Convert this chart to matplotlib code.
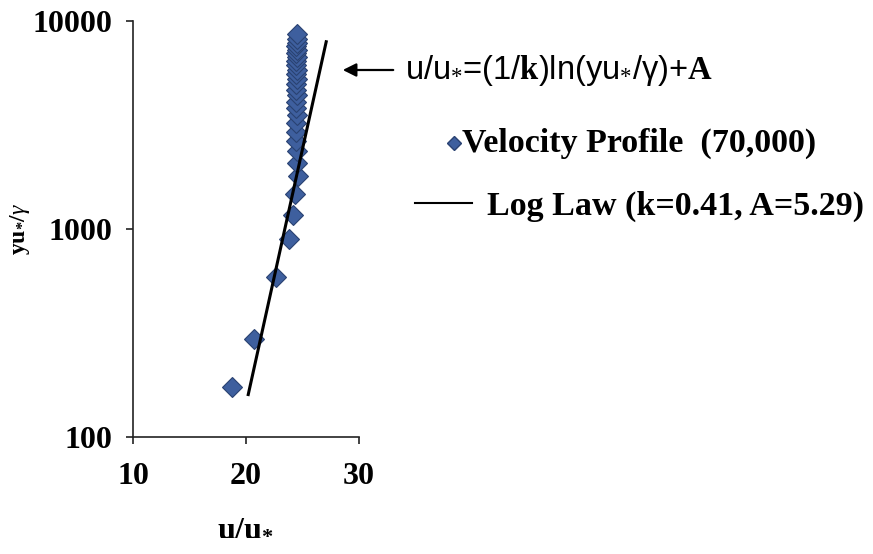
import numpy as np
import matplotlib.pyplot as plt
from matplotlib.lines import Line2D

plt.rcParams['mathtext.fontset'] = 'custom'
plt.rcParams['mathtext.rm'] = 'Liberation Serif'
plt.rcParams['mathtext.bf'] = 'Liberation Serif:bold'
plt.rcParams['mathtext.it'] = 'Liberation Serif:italic'

# measured velocity profile, Re = 70,000
u_plus = [18.8, 20.7, 22.7, 23.8, 24.2, 24.3, 24.6, 24.5, 24.5, 24.4,
          24.4, 24.4, 24.5, 24.4, 24.4, 24.5, 24.4, 24.4, 24.5, 24.4,
          24.5, 24.4, 24.4, 24.5, 24.4, 24.5, 24.4, 24.5, 24.5, 24.5]
y_plus = [173, 296, 590, 891, 1168, 1472, 1803, 2070, 2360, 2650,
          2940, 3230, 3520, 3810, 4100, 4390, 4680, 4970, 5260, 5550,
          5840, 6130, 6420, 6710, 7000, 7290, 7580, 7870, 8160, 8700]

# log law line end points
u_log = [20.2, 27.1]
y_log = [160, 7950]

serif = 'Liberation Serif'
blue = '#3E5F9E'

fig = plt.figure(figsize=(8.73, 5.54), dpi=100)
ax = fig.add_axes([0.1523, 0.2112, 0.2589, 0.7508])

ax.plot(u_plus, y_plus, linestyle='none', marker='D', markersize=10,
        markerfacecolor=blue, markeredgecolor='#2A4272', markeredgewidth=0.8,
        label='Velocity Profile  (70,000)', zorder=3)
ax.plot(u_log, y_log, color='black', linewidth=2.2,
        label='Log Law (k=0.41, A=5.29)', zorder=4)

ax.set_yscale('log')
ax.set_xlim(10, 30)
ax.set_ylim(100, 10000)
ax.set_xticks([10, 20, 30])
ax.set_yticks([100, 1000, 10000])
ax.set_yticklabels(['100', '1000', '10000'])
ax.minorticks_off()
ax.spines['top'].set_visible(False)
ax.spines['right'].set_visible(False)
for sp in ax.spines.values():
    sp.set_linewidth(1.2)
    sp.set_color('#222222')
ax.tick_params(axis='both', direction='out', length=5, width=1.2, color='#222222')
ax.tick_params(axis='y', pad=10)
ax.tick_params(axis='x', pad=13)
for lab in ax.get_xticklabels() + ax.get_yticklabels():
    lab.set_fontfamily(serif)
    lab.set_fontweight('bold')
    lab.set_fontsize(23)

ax.set_xlabel(r'u/u$_{\mathbf{*}}$', fontfamily=serif, fontweight='bold', fontsize=23, labelpad=16)
ax.set_ylabel(r'yu$_{\mathbf{*}}$/$\gamma$', fontfamily=serif, fontweight='bold', fontsize=17, labelpad=0)

# equation with arrow pointing at the log law line
fig.text(405 / 873, 1 - 70 / 554,
         r'u/u$_{*}$=(1/$\mathbf{k}$)ln(yu$_{*}$/γ)+$\mathbf{A}$',
         fontfamily='Liberation Sans', fontsize=23.5, va='center', ha='left')
ax.annotate('', xy=(340 / 873, 1 - 70 / 554), xytext=(396 / 873, 1 - 70 / 554),
            xycoords='figure fraction', textcoords='figure fraction',
            arrowprops=dict(arrowstyle='-|>', color='black', lw=1.6, mutation_scale=20),
            annotation_clip=False)

# legend drawn beside the axes
fig.add_artist(Line2D([454 / 873], [1 - 143 / 554], transform=fig.transFigure,
                      marker='D', markersize=7, markerfacecolor=blue,
                      markeredgecolor='#2A4272', linestyle='none'))
fig.text(462 / 873, 1 - 143 / 554, 'Velocity Profile  (70,000)', fontfamily=serif,
         fontweight='bold', fontsize=24.5, va='center', ha='left')
fig.add_artist(Line2D([415 / 873, 472 / 873], [1 - 203 / 554, 1 - 203 / 554],
                      transform=fig.transFigure, color='black', linewidth=1.5))
fig.text(487 / 873, 1 - 206 / 554, 'Log Law (k=0.41, A=5.29)', fontfamily=serif,
         fontweight='bold', fontsize=24.5, va='center', ha='left')

fig.savefig('out.png', dpi=100)
